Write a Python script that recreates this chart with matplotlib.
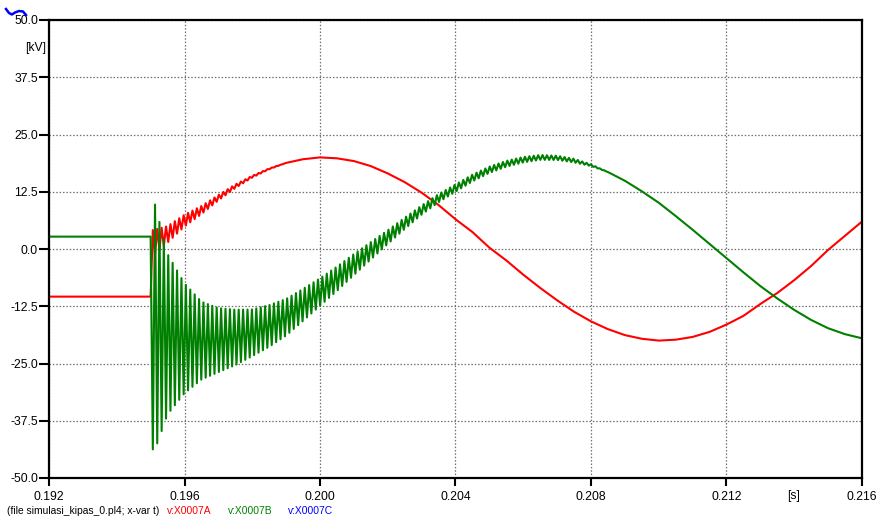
import numpy as np
import matplotlib
matplotlib.use('Agg')
from matplotlib import pyplot as plt
from matplotlib import transforms
from matplotlib.lines import Line2D

plt.rcParams['font.family'] = ['Liberation Sans', 'DejaVu Sans']

# =============================================================================
# values (kV over s)
# =============================================================================
t_start = 0.192
t_end = 0.216
t_fault = 0.1950
preFault_A = -10.4
preFault_B = 2.7

# smooth course after the fault, every 0.5 ms from 0.1950 to 0.2160
t_smooth = np.linspace(0.1950, 0.2160, 43)
v_A = [1.0, 3.2, 6.2, 8.5, 11.2, 13.7, 15.8, 17.5, 18.8, 19.6,
       20.0, 19.8, 19.2, 18.1, 16.5, 14.6, 12.3, 9.6, 6.5, 3.7,
       0.3, -2.5, -5.6, -8.5, -11.2, -13.7, -15.8, -17.5, -18.8, -19.6,
       -20.0, -19.8, -19.2, -18.1, -16.5, -14.6, -12.0, -9.6, -6.8, -3.7,
       -0.2, 2.9, 6.0]
v_B = [-16.5, -18.6, -19.5, -20.0, -19.9, -19.3, -18.3, -16.8, -14.9, -12.2,
       -9.4, -6.5, -3.4, -0.4, 2.6, 5.6, 8.5, 11.1, 13.3, 15.5,
       17.3, 18.6, 19.5, 20.0, 19.9, 19.3, 18.3, 16.8, 14.9, 12.6,
       10.1, 7.2, 4.2, 1.1, -2.0, -5.1, -8.1, -10.8, -13.3, -15.5,
       -17.3, -18.6, -19.5]

# high frequency ripple after switching: half peak-to-peak amplitude
ripplePeriod = 0.13e-3
rippleTime_B = [0.1950, 0.1951, 0.1955, 0.1960, 0.1965, 0.1970, 0.1980, 0.1990,
                0.2000, 0.2010, 0.2020, 0.2030, 0.2040, 0.2060, 0.2075, 0.2085]
rippleAmp_B = [26.0, 27.5, 17.5, 12.0, 8.5, 7.0, 5.1, 4.0,
               3.0, 2.3, 1.5, 1.0, 0.8, 0.6, 0.4, 0.0]
rippleTime_A = [0.1950, 0.1955, 0.1960, 0.1965, 0.1970, 0.1975, 0.1980, 0.1990]
rippleAmp_A = [3.0, 1.8, 1.3, 0.9, 0.6, 0.4, 0.2, 0.0]

xTicks = [0.192, 0.196, 0.200, 0.204, 0.208, 0.212, 0.216]
yTicks = [-50.0, -37.5, -25.0, -12.5, 0.0, 12.5, 25.0, 37.5, 50.0]


def buildTrace(vSmooth, rippleTime, rippleAmp, vPre, firstUp):
    vSmooth = np.asarray(vSmooth)
    half = ripplePeriod / 2
    nTips = int((rippleTime[-1] - t_fault) / half)
    k = np.arange(1, nTips + 1)
    tTips = t_fault + half * k
    sign = np.where(k % 2 == 1, 1.0, -1.0)
    if not firstUp:
        sign = -sign
    vTips = np.interp(tTips, t_smooth, vSmooth) + sign * np.interp(tTips, rippleTime, rippleAmp)
    rest = t_smooth > tTips[-1]
    t = np.concatenate([[t_start, t_fault], tTips, t_smooth[rest]])
    v = np.concatenate([[vPre, vPre], vTips, vSmooth[rest]])
    return t, v


tA, vA = buildTrace(v_A, rippleTime_A, rippleAmp_A, preFault_A, True)
tB, vB = buildTrace(v_B, rippleTime_B, rippleAmp_B, preFault_B, False)

# =============================================================================
# plot
# =============================================================================
fig = plt.figure(figsize=(8.83, 5.22), dpi=100)
ax = fig.add_axes([49 / 883, 1 - 478 / 522, 813 / 883, 458 / 522])

ax.plot(tA, vA, color='#ff0000', linewidth=1.5)
ax.plot(tB, vB, color='#008000', linewidth=1.5)

ax.set_xlim(t_start, t_end)
ax.set_ylim(-50, 50)
ax.set_xticks(xTicks)
ax.set_xticklabels(['%.3f' % x for x in xTicks])
ax.set_yticks(yTicks)
ax.set_yticklabels(['%.1f' % y for y in yTicks])
ax.grid(True, color='#707070', linestyle=(0, (1.2, 1.5)), linewidth=0.9)
for sp in ax.spines.values():
    sp.set_linewidth(1.6)
    sp.set_color('black')
ax.tick_params(axis='y', direction='out', length=7, width=1.5, pad=1, labelsize=8.7)
ax.tick_params(axis='x', direction='out', length=6, width=1.5, pad=3, labelsize=8.7)

trans = transforms.blended_transform_factory(ax.transAxes, ax.transData)
ax.text(-0.003, 43.8, '[kV]', transform=trans, ha='right', va='center', fontsize=8.7)
fig.text(793.5 / 883, 1 - 496.5 / 522, '[s]', ha='center', va='center', fontsize=8.7)

# footer with file name and variable names
footY = 1 - 511 / 522
fig.text(7 / 883, footY, '(file simulasi_kipas_0.pl4; x-var t)', ha='left', va='center', fontsize=7.4)
fig.text(167 / 883, footY, 'v:X0007A', color='#ff0000', ha='left', va='center', fontsize=7.4)
fig.text(228 / 883, footY, 'v:X0007B', color='#008000', ha='left', va='center', fontsize=7.4)
fig.text(288 / 883, footY, 'v:X0007C', color='#0000ff', ha='left', va='center', fontsize=7.4)

# small blue logo in the corner
logoX = [6, 9, 12, 15, 19, 23, 26]
logoY = [9, 13, 14.5, 12.5, 11, 11.5, 15]
fig.add_artist(Line2D([x / 883 for x in logoX], [1 - y / 522 for y in logoY],
                      transform=fig.transFigure, color='#0000ff', linewidth=1.8))

fig.savefig('out.png', dpi=100)
